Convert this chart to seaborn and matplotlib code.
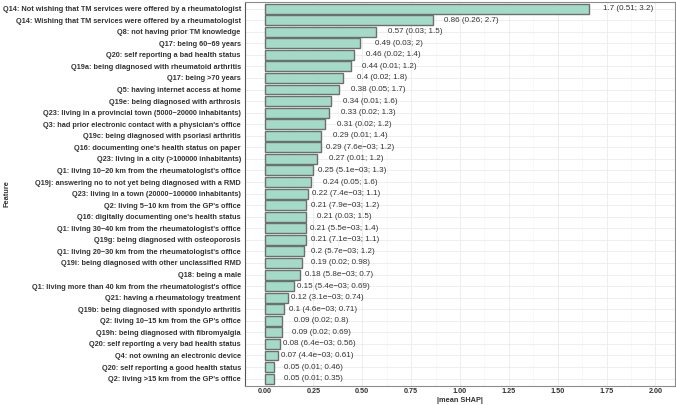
import pandas as pd
import seaborn as sns
import matplotlib.pyplot as plt
from matplotlib.ticker import MultipleLocator

# feature names, top to bottom
features = [
    "Q14: Not wishing that TM services were offered by a rheumatologist",
    "Q14: Wishing that TM services were offered by a rheumatologist",
    "Q8: not having prior TM knowledge",
    "Q17: being 60\u221269 years",
    "Q20: self reporting a bad health status",
    "Q19a: being diagnosed with rheumatoid arthritis",
    "Q17: being >70 years",
    "Q5: having internet access at home",
    "Q19e: being diagnosed with arthrosis",
    "Q23: living in a provincial town (5000\u221220000 inhabitants)",
    "Q3: had prior electronic contact with a physician's office",
    "Q19c: being diagnosed with psoriasi arthritis",
    "Q16: documenting one's health status on paper",
    "Q23: living in a city (>100000 inhabitants)",
    "Q1: living 10\u221220 km from the rheumatologist's office",
    "Q19j: answering no to not yet being diagnosed with a RMD",
    "Q23: living in a town (20000\u2212100000 inhabitants)",
    "Q2: living 5\u221210 km from the GP's office",
    "Q16: digitally documenting one's health status",
    "Q1: living 30\u221240 km from the rheumatologist's office",
    "Q19g: being diagnosed with osteoporosis",
    "Q1: living 20\u221230 km from the rheumatologist's office",
    "Q19i: being diagnosed with other unclassified RMD",
    "Q18: being a male",
    "Q1: living more than 40 km from the rheumatologist's office",
    "Q21: having a rheumatology treatment",
    "Q19b: being diagnosed with spondylo arthritis",
    "Q2: living 10\u221215 km from the GP's office",
    "Q19h: being diagnosed with fibromyalgia",
    "Q20: self reporting a very bad health status",
    "Q4: not owning an electronic device",
    "Q20: self reporting a good health status",
    "Q2: living >15 km from the GP's office",
]

# mean |SHAP| and interval bounds
mean_shap = [1.66, 0.86, 0.57, 0.49, 0.46, 0.44, 0.40, 0.38, 0.34, 0.33, 0.31,
             0.29, 0.29, 0.27, 0.25, 0.24, 0.22, 0.21, 0.21, 0.21, 0.21, 0.20,
             0.19, 0.18, 0.15, 0.12, 0.10, 0.09, 0.09, 0.08, 0.07, 0.05, 0.05]
lower = ["0.51", "0.26", "0.03", "0.03", "0.02", "0.01", "0.02", "0.05", "0.01",
         "0.02", "0.02", "0.01", "7.6e\u221203", "0.01", "5.1e\u221203", "0.05",
         "7.4e\u221203", "7.9e\u221203", "0.03", "5.5e\u221203", "7.1e\u221203",
         "5.7e\u221203", "0.02", "5.8e\u221203", "5.4e\u221203", "3.1e\u221203",
         "4.6e\u221203", "0.02", "0.02", "6.4e\u221203", "4.4e\u221203", "0.01", "0.01"]
upper = ["3.2", "2.7", "1.5", "2", "1.4", "1.2", "1.8", "1.7", "1.6", "1.3", "1.2",
         "1.4", "1.2", "1.2", "1.3", "1.6", "1.1", "1.2", "1.5", "1.4", "1.1", "1.2",
         "0.98", "0.7", "0.69", "0.74", "0.71", "0.8", "0.69", "0.56", "0.61",
         "0.46", "0.35"]
shown = ["1.7", "0.86", "0.57", "0.49", "0.46", "0.44", "0.4", "0.38", "0.34",
         "0.33", "0.31", "0.29", "0.29", "0.27", "0.25", "0.24", "0.22", "0.21",
         "0.21", "0.21", "0.21", "0.2", "0.19", "0.18", "0.15", "0.12", "0.1",
         "0.09", "0.09", "0.08", "0.07", "0.05", "0.05"]

df = pd.DataFrame({"feature": features, "shap": mean_shap})

sns.set_theme(style="white")
plt.rcParams['font.family'] = ['Liberation Sans', 'DejaVu Sans']

fig = plt.figure(figsize=(6.76, 4.05), dpi=100)
ax = fig.add_axes([0.3624, 0.048, 0.6361, 0.948])

sns.barplot(data=df, x="shap", y="feature", orient="h", color="#a3dbc8",
            edgecolor="#6e6e6e", linewidth=1.0, width=0.86, saturation=1, ax=ax)

# seaborn switches the grid off on the category axis, so set it again
ax.xaxis.set_minor_locator(MultipleLocator(0.125))
ax.grid(True, which='major', axis='both', color='#ebebeb', linewidth=0.6)
ax.xaxis.grid(True, which='minor', color='#f3f3f3', linewidth=0.4)
ax.set_axisbelow(True)

# labels centered a bit to the right of each bar
for i, v in enumerate(mean_shap):
    ax.text(v + 0.2, i, f"{shown[i]} ({lower[i]}; {upper[i]})", ha='center',
            va='center', fontsize=5.8, color='#333333')

ax.set_xlim(-0.1, 2.1)
ax.set_ylim(len(features) - 0.4, -0.6)
ax.set_xticks([0, 0.25, 0.5, 0.75, 1.0, 1.25, 1.5, 1.75, 2.0])
ax.set_xticklabels(["0.00", "0.25", "0.50", "0.75", "1.00", "1.25", "1.50",
                    "1.75", "2.00"])
ax.tick_params(axis='x', which='both', length=0, pad=2, labelsize=5.2,
               labelcolor='#333333')
ax.tick_params(axis='y', length=2, width=0.5, color='#555555', pad=1,
               labelsize=5.3, labelcolor='#333333')
for lab in ax.get_xticklabels() + ax.get_yticklabels():
    lab.set_fontweight('bold')

ax.set_xlabel("|mean SHAP|", fontsize=5.3, fontweight='bold', color='#333333',
              labelpad=1)
ax.set_ylabel("Feature", fontsize=5.3, fontweight='bold', color='#333333')
ax.yaxis.set_label_coords(-0.545, 0.5)

for s in ax.spines.values():
    s.set_color('#8c8c8c')
    s.set_linewidth(0.8)
ax.spines['left'].set_color('#555555')

fig.savefig("out.png", dpi=100)
